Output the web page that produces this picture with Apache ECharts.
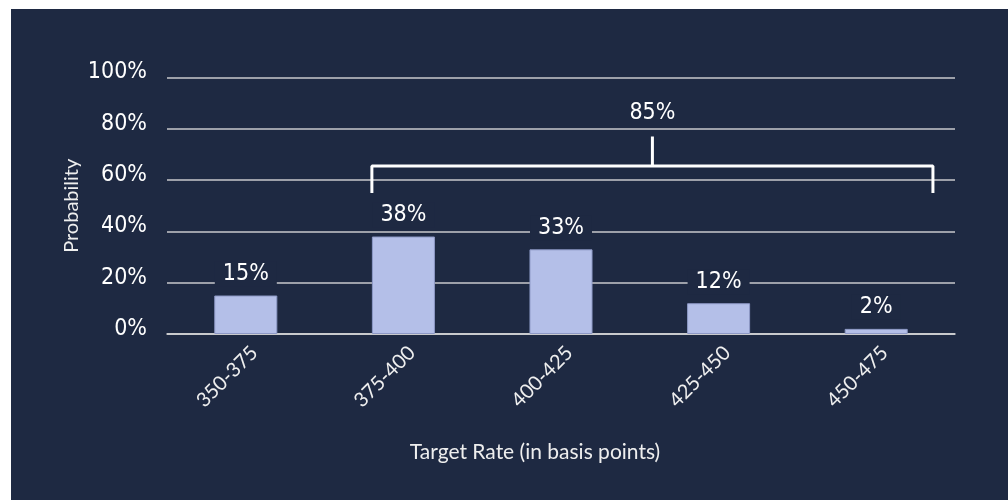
<!DOCTYPE html>
<html lang="en">
<head>
    <meta charset="UTF-8">
    <title>Target Rate Probabilities</title>
    <script src="https://cdn.jsdelivr.net/npm/echarts@6/dist/echarts.min.js"></script>
    <style>
        * {
            margin: 0;
            padding: 0
        }

        html, body {
            width: 100%;
            height: 100%;
            background: #fff;
        }

        #main {
            position: absolute;
            left: 11px;
            top: 9px;
            width: 997px;
            height: 491px;
            background: #1e2942;
        }
    </style>
</head>
<body>
<div id="main"></div>
<script type="text/javascript">
    // categories and probabilities (%)
    var categories = ['350-375', '375-400', '400-425', '425-450', '450-475'];
    var probabilities = [15, 38, 33, 12, 2];

    // bracket over the 375-475 range, positions in category units
    var bracketX = [0.8, 4.36];
    var bracketY = [55, 65.5];
    var bracketTickTop = 77;
    var bracketTotal = 85;

    var narrow = '"DejaVu Sans Condensed", "DejaVu Sans", sans-serif';
    var plain = 'Lato, "Open Sans", sans-serif';

    var bracketMid = (bracketX[0] + bracketX[1]) / 2;

    var chart = echarts.init(document.getElementById('main'));
    chart.setOption({
        animation: false,
        grid: {
            left: 156,
            right: 53,
            top: 68.5,
            bottom: 166
        },
        xAxis: [{
            type: 'category',
            data: categories,
            name: 'Target Rate (in basis points)',
            nameLocation: 'middle',
            nameGap: 108,
            nameMoveOverlap: false,
            nameTextStyle: {
                color: '#eeeeee',
                fontFamily: plain,
                fontSize: 21,
                padding: [0, 52, 0, 0]
            },
            axisLine: {lineStyle: {color: '#d9d9d9', width: 1.5}},
            axisTick: {show: false},
            axisLabel: {
                rotate: 45,
                color: '#eeeeee',
                fontFamily: plain,
                fontSize: 20,
                margin: 24,
                padding: [0, -12, 0, 0]
            }
        }, {
            type: 'value',
            min: -0.5,
            max: 4.5,
            show: false
        }],
        yAxis: {
            type: 'value',
            min: 0,
            max: 100,
            interval: 20,
            name: 'Probability',
            nameLocation: 'middle',
            nameGap: 85,
            nameMoveOverlap: false,
            nameTextStyle: {
                color: '#eeeeee',
                fontFamily: plain,
                fontSize: 20
            },
            axisLine: {show: false},
            axisTick: {show: false},
            splitLine: {lineStyle: {color: '#c8c8cc', width: 1.5}},
            axisLabel: {
                formatter: '{value}%',
                color: '#ffffff',
                fontFamily: narrow,
                fontSize: 23,
                margin: 20,
                verticalAlign: 'bottom',
                lineHeight: 10
            }
        },
        series: [{
            type: 'bar',
            data: probabilities,
            barWidth: '40%',
            itemStyle: {
                color: '#b4bfe8',
                borderColor: '#8e99c6',
                borderWidth: 1
            },
            label: {
                show: true,
                position: 'top',
                distance: 9,
                formatter: '{c}%',
                color: '#ffffff',
                fontFamily: narrow,
                fontSize: 23,
                backgroundColor: '#1e2942',
                padding: [1, 8]
            }
        }, {
            type: 'line',
            xAxisIndex: 1,
            silent: true,
            symbol: 'none',
            lineStyle: {color: '#ffffff', width: 3},
            data: [
                [bracketX[0], bracketY[0]],
                [bracketX[0], bracketY[1]],
                [bracketX[1], bracketY[1]],
                [bracketX[1], bracketY[0]]
            ]
        }, {
            type: 'line',
            xAxisIndex: 1,
            silent: true,
            symbol: 'circle',
            symbolSize: 0,
            showSymbol: true,
            lineStyle: {color: '#ffffff', width: 3},
            label: {show: false},
            data: [
                [bracketMid, bracketY[1]],
                {
                    value: [bracketMid, bracketTickTop],
                    label: {
                        show: true,
                        position: 'top',
                        distance: 12,
                        formatter: bracketTotal + '%',
                        color: '#ffffff',
                        fontFamily: narrow,
                        fontSize: 23
                    }
                }
            ]
        }]
    });
</script>

</body>
</html>
